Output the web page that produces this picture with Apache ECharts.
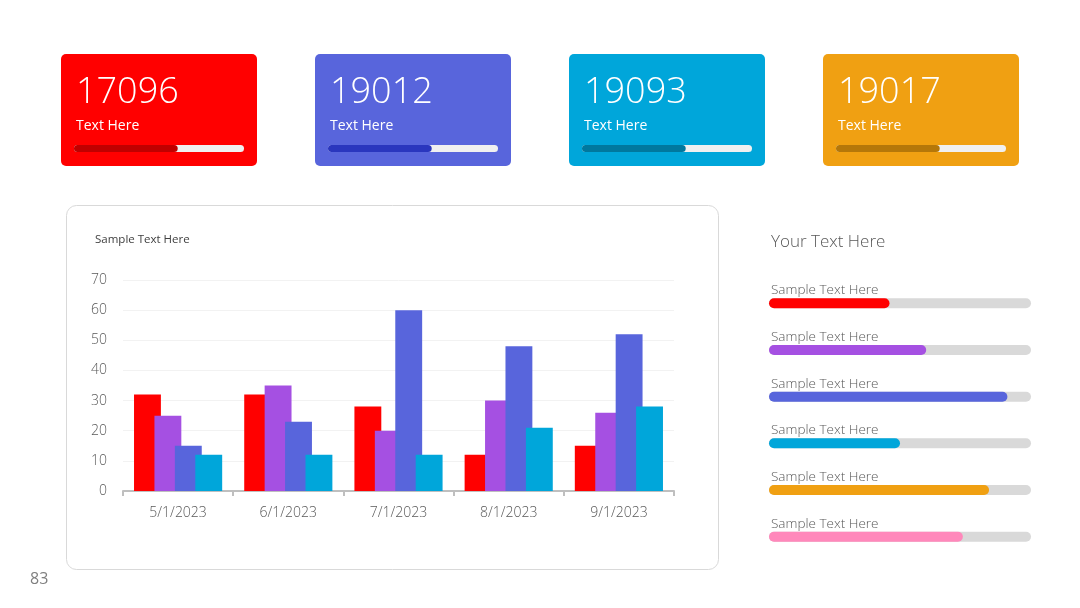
<!DOCTYPE html>
<html>
<head>
<meta charset="utf-8">
<script src="https://cdn.jsdelivr.net/npm/echarts@6/dist/echarts.min.js"></script>
<style>
  html, body { margin: 0; padding: 0; background: #fff; }
  #main { width: 1080px; height: 608px; }
</style>
</head>
<body>
<div id="main"></div>
<script>
// chart data
const months = ["5/1/2023", "6/1/2023", "7/1/2023", "8/1/2023", "9/1/2023"];
const series1 = [32, 32, 28, 12, 15];
const series2 = [25, 35, 20, 30, 26];
const series3 = [15, 23, 60, 48, 52];
const series4 = [12, 12, 12, 21, 28];

// cards on top
const cardValues = [17096, 19012, 19093, 19017];
const cardLabels = ["Text Here", "Text Here", "Text Here", "Text Here"];
const cardProgress = [61, 61, 61, 61];

// right side progress list
const listLabels = ["Sample Text Here", "Sample Text Here", "Sample Text Here",
  "Sample Text Here", "Sample Text Here", "Sample Text Here"];
const listValues = [46, 60, 91, 50, 84, 74];

const cardColors = ["#ff0000", "#5865dc", "#00a6da", "#f0a012"];
const cardDark = ["#c00000", "#2a36be", "#00789e", "#b57709"];
const listColors = ["#ff0000", "#a550e2", "#5865dc", "#00a6da", "#f0a012", "#ff88bb"];
const barColors = ["#ff0000", "#a550e2", "#5865dc", "#00a6da"];

const FONT = "'Open Sans', 'Noto Sans', sans-serif";
const chart = echarts.init(document.getElementById("main"));

const cardX = [61, 315, 569, 823];
const grids = [];
const xAxes = [];
const yAxes = [];
const series = [];
const graphics = [];

// cards: background + texts as graphics, progress as bar series
cardX.forEach((x, i) => {
  graphics.push({
    type: "rect", left: x, top: 54, z: -10,
    shape: { width: 196, height: 112, r: 5 },
    style: { fill: cardColors[i] }
  });
  graphics.push({
    type: "text", left: x + 15, top: 75,
    style: { text: String(cardValues[i]), fill: "#fff", font: "300 36px " + FONT }
  });
  graphics.push({
    type: "text", left: x + 15, top: 119,
    style: { text: cardLabels[i], fill: "#fff", font: "14px " + FONT }
  });
  grids.push({ left: x + 13, top: 145, width: 170, height: 7 });
  xAxes.push({ gridIndex: i, type: "value", min: 0, max: 100, show: false });
  yAxes.push({ gridIndex: i, type: "category", data: [cardLabels[i]], show: false });
  series.push({
    type: "bar", xAxisIndex: i, yAxisIndex: i, barWidth: 7,
    data: [cardProgress[i]],
    itemStyle: { color: cardDark[i], borderRadius: 4 },
    showBackground: true,
    backgroundStyle: { color: "#f0f0f0", borderRadius: 4 },
    silent: true
  });
});

// main bar chart
grids.push({ left: 123, right: 406, top: 280, bottom: 117 });
xAxes.push({
  gridIndex: 4, type: "category", data: months,
  axisLine: { lineStyle: { color: "#bfbfbf", width: 2 } },
  axisTick: { show: true, lineStyle: { color: "#bfbfbf", width: 2 }, length: 5 },
  axisLabel: { color: "#595959", fontSize: 14, fontWeight: 300, margin: 15, fontFamily: FONT }
});
yAxes.push({
  gridIndex: 4, type: "value", min: 0, max: 70, interval: 10,
  axisLine: { show: false }, axisTick: { show: false },
  axisLabel: { color: "#595959", fontSize: 14, fontWeight: 300, margin: 16, fontFamily: FONT },
  splitLine: { lineStyle: { color: "#f2f2f2" } }
});
[series1, series2, series3, series4].forEach((d, i) => {
  series.push({
    name: "Series " + (i + 1), type: "bar", xAxisIndex: 4, yAxisIndex: 4,
    data: d, barGap: "-24%", barCategoryGap: "20%",
    itemStyle: { color: barColors[i] }
  });
});

// right list of progress bars
grids.push({ left: 769, width: 262, top: 280, bottom: 48 });
xAxes.push({ gridIndex: 5, type: "value", min: 0, max: 100, show: false });
yAxes.push({
  gridIndex: 5, type: "category", inverse: true,
  data: listLabels.map((l, i) => l + "#" + i), show: false
});
series.push({
  type: "bar", xAxisIndex: 5, yAxisIndex: 5, barWidth: 10,
  data: listValues.map((v, i) => ({ value: v, itemStyle: { color: listColors[i] } })),
  itemStyle: { borderRadius: 5 },
  showBackground: true,
  backgroundStyle: { color: "#d9d9d9", borderRadius: 5 },
  label: {
    show: true, position: [2, -15], color: "#595959", fontSize: 13.5,
    fontWeight: 300, fontFamily: FONT,
    formatter: p => listLabels[p.dataIndex]
  }
});

// panel, titles, page number
graphics.push({
  type: "rect", left: 66, top: 205, z: -10,
  shape: { width: 652, height: 364, r: 10 },
  style: { fill: "#fff", stroke: "#d9d9d9", lineWidth: 1 }
});
graphics.push({
  type: "text", left: 95, top: 234,
  style: { text: "Sample Text Here", fill: "#404040", font: "11.5px " + FONT }
});
graphics.push({
  type: "text", left: 771, top: 234,
  style: { text: "Your Text Here", fill: "#595959", font: "300 17px " + FONT }
});
graphics.push({
  type: "text", left: 30, top: 571,
  style: { text: "83", fill: "#7f7f7f", font: "16px " + FONT }
});

chart.setOption({
  animation: false,
  backgroundColor: "#fff",
  grid: grids,
  xAxis: xAxes,
  yAxis: yAxes,
  series: series,
  graphic: graphics
});

window.addEventListener("resize", function () {
  chart.resize();
});
</script>
</body>
</html>
